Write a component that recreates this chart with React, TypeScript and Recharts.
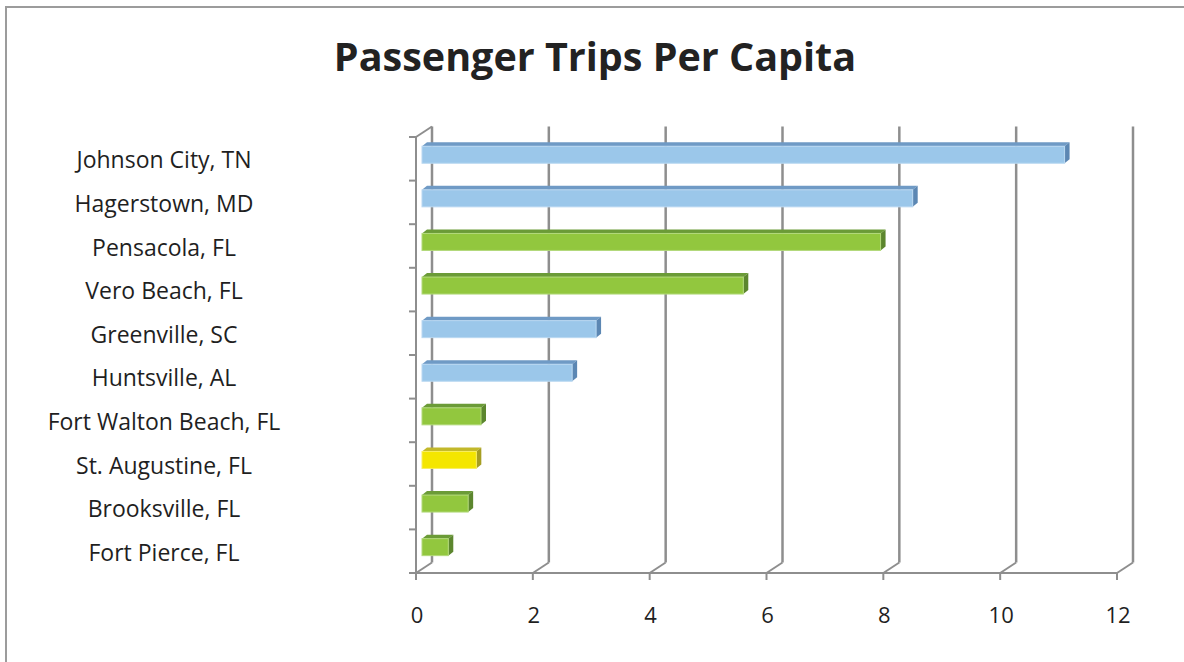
import React from 'react';
import { BarChart, Bar, XAxis, YAxis, CartesianGrid } from 'recharts';

const cities = [
  'Johnson City, TN',
  'Hagerstown, MD',
  'Pensacola, FL',
  'Vero Beach, FL',
  'Greenville, SC',
  'Huntsville, AL',
  'Fort Walton Beach, FL',
  'St. Augustine, FL',
  'Brooksville, FL',
  'Fort Pierce, FL',
];
const tripsPerCapita = [11.0, 8.4, 7.85, 5.5, 2.98, 2.57, 1.01, 0.93, 0.79, 0.45];
// colour group of each city: out of state, Florida, or the highlighted one
const groups = ['other', 'other', 'florida', 'florida', 'other', 'other', 'florida', 'highlight', 'florida', 'florida'];
const xTicks = [0, 2, 4, 6, 8, 10, 12];

const data = cities.map((city, i) => ({ city, trips: tripsPerCapita[i], group: groups[i] }));

const palette: Record<string, { front: string; top: string; side: string; edge: string }> = {
  other: { front: '#9BC7EA', top: '#6F9AC5', side: '#5C87B3', edge: '#B9D8F1' },
  florida: { front: '#92C73E', top: '#6B9B37', side: '#5C862E', edge: '#B2D97A' },
  highlight: { front: '#F4E600', top: '#C2B82A', side: '#A69E22', edge: '#F8EE60' },
};

const W = 1184;
const H = 662;
const PLOT = { left: 416, top: 137, right: 1117, bottom: 573 };
const DEPTH_X = 16;
const DEPTH_Y = -10.5;
const GRID = '#8e8e8e';
const FONT = '"Open Sans", Lato, sans-serif';

const Bar3D = (props: any) => {
  const { x, y, width, height, payload } = props;
  if (width == null || height == null) return null;
  const c = palette[payload.group];
  // the bar sits a little way into the floor's depth
  const bx = x + 6;
  const by = y - 3.75;
  const dx = 5;
  const dy = -4;
  return (
    <g>
      <polygon
        points={`${bx},${by} ${bx + dx},${by + dy} ${bx + width + dx},${by + dy} ${bx + width},${by}`}
        fill={c.top}
      />
      <polygon
        points={`${bx + width},${by} ${bx + width + dx},${by + dy} ${bx + width + dx},${by + height + dy} ${bx + width},${by + height}`}
        fill={c.side}
      />
      <rect x={bx} y={by} width={width} height={height} fill={c.front} stroke={c.edge} strokeWidth={1} />
    </g>
  );
};

const backGridLine = (props: any) => {
  const { x1, y1, y2 } = props;
  const bx = x1 + DEPTH_X;
  return (
    <g key={`grid-${x1}`}>
      <line x1={x1} y1={y2} x2={bx} y2={y2 + DEPTH_Y} stroke={GRID} strokeWidth={2} />
      <line x1={bx} y1={y2 + DEPTH_Y} x2={bx} y2={y1 + DEPTH_Y} stroke={GRID} strokeWidth={2.5} />
      {Math.abs(x1 - PLOT.left) < 1 && (
        <line x1={x1} y1={y1} x2={bx} y2={y1 + DEPTH_Y} stroke={GRID} strokeWidth={2} />
      )}
    </g>
  );
};

const CityTick = (props: any) => {
  const { y, payload, index } = props;
  const band = (PLOT.bottom - PLOT.top) / cities.length;
  return (
    <g>
      <text x={164} y={y + 1.5} dy="0.35em" textAnchor="middle" fontSize={23} fill="#1f1f1f" fontFamily={FONT}>
        {payload.value}
      </text>
      <line x1={PLOT.left - 7} x2={PLOT.left} y1={y - band / 2} y2={y - band / 2} stroke={GRID} strokeWidth={2} />
      {index === cities.length - 1 && (
        <line x1={PLOT.left - 7} x2={PLOT.left} y1={y + band / 2} y2={y + band / 2} stroke={GRID} strokeWidth={2} />
      )}
    </g>
  );
};

const ValueTick = (props: any) => {
  const { x, payload } = props;
  return (
    <text x={x + 1} y={PLOT.bottom + 42} dy="0.35em" textAnchor="middle" fontSize={22} fill="#1f1f1f" fontFamily={FONT}>
      {payload.value}
    </text>
  );
};

export default function App() {
  return (
    <div style={{ position: 'absolute', left: 0, top: 0, width: W, height: H, overflow: 'hidden', background: '#fff' }}>
      <div
        style={{
          position: 'absolute',
          left: 5,
          top: 6,
          width: W + 100,
          height: H + 100,
          borderLeft: '2px solid #9c9c9c',
          borderTop: '2px solid #9c9c9c',
        }}
      />
      <div
        style={{
          position: 'absolute',
          left: 3,
          top: 37,
          width: W,
          textAlign: 'center',
          fontFamily: FONT,
          fontWeight: 700,
          fontSize: 39.5,
          lineHeight: 1,
          color: '#222',
        }}
      >
        Passenger Trips Per Capita
      </div>
      <div style={{ position: 'absolute', left: 0, top: 0 }}>
        <BarChart
          width={W}
          height={H}
          data={data}
          layout="vertical"
          margin={{ top: PLOT.top, right: W - PLOT.right, bottom: H - PLOT.bottom - 60, left: PLOT.left - 400 }}
        >
          <CartesianGrid horizontal={false} vertical={backGridLine} />
          <XAxis
            type="number"
            dataKey="trips"
            domain={[0, 12]}
            ticks={xTicks}
            height={60}
            axisLine={{ stroke: GRID, strokeWidth: 2 }}
            tickLine={{ stroke: GRID, strokeWidth: 2 }}
            tickSize={7}
            tick={<ValueTick />}
            interval={0}
          />
          <YAxis
            type="category"
            dataKey="city"
            width={400}
            axisLine={{ stroke: GRID, strokeWidth: 2 }}
            tickLine={false}
            tick={<CityTick />}
            interval={0}
          />
          <Bar dataKey="trips" barSize={17} shape={<Bar3D />} isAnimationActive={false} />
        </BarChart>
      </div>
    </div>
  );
}
